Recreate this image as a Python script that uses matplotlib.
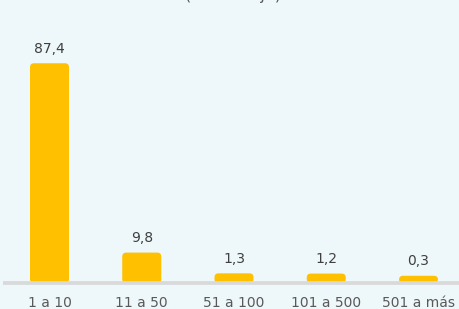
import matplotlib
matplotlib.use("Agg")
import matplotlib.pyplot as plt
from matplotlib.patches import FancyBboxPatch

categories = ["1 a 10", "11 a 50", "51 a 100", "101 a 500", "501 a más"]
values = [87.4, 9.8, 1.3, 1.2, 0.3]
value_labels = ["87,4", "9,8", "1,3", "1,2", "0,3"]
title = "(Porcentaje)"

bg = "#EEF8FA"
bar_color = "#FFC000"
W, H = 459, 309
px_x = 92.25   # pixels per category step
px_y = 2.44    # pixels per percentage point
x0_px = 49.5   # center of first bar
y0_px = 276.5  # zero level, from top

plt.rcParams["font.family"] = ["DejaVu Sans"]

fig = plt.figure(figsize=(W / 100, H / 100), dpi=100, facecolor=bg)
ax = fig.add_axes([0, 0, 1, 1])
ax.set_facecolor(bg)
ax.set_xlim(-x0_px / px_x, (W - x0_px) / px_x)
ax.set_ylim(-(H - y0_px) / px_y, y0_px / px_y)
ax.axis("off")

bw = 39 / px_x
base = -6.6 / px_y
aspect = px_x / px_y
for i, v in enumerate(values):
    p = FancyBboxPatch((i - bw / 2, base), bw, v - base,
                       boxstyle="round,pad=0,rounding_size=%f" % (4 / px_x),
                       mutation_aspect=aspect, fc=bar_color, ec="none", zorder=2)
    ax.add_patch(p)
    ax.annotate(value_labels[i], (i, v), xytext=(0, 10.6), textcoords="offset points",
                ha="center", va="center", fontsize=10, color="#3F3F3F", zorder=4)
    ax.text(i, -(306.7 - y0_px) / px_y, categories[i], ha="center", va="baseline",
            fontsize=10, color="#595959")

ax.plot([(3 - x0_px) / px_x, (W - x0_px) / px_x], [base, base],
        color="#D9D9D9", lw=2.7, solid_capstyle="butt", zorder=3)

# title sits mostly above the visible area
fig.text(233.5 / W, (H - 0.3) / H, title, ha="center", va="baseline",
         fontsize=11.5, color="#595959")

fig.savefig("out.png", dpi=100, facecolor=bg)
